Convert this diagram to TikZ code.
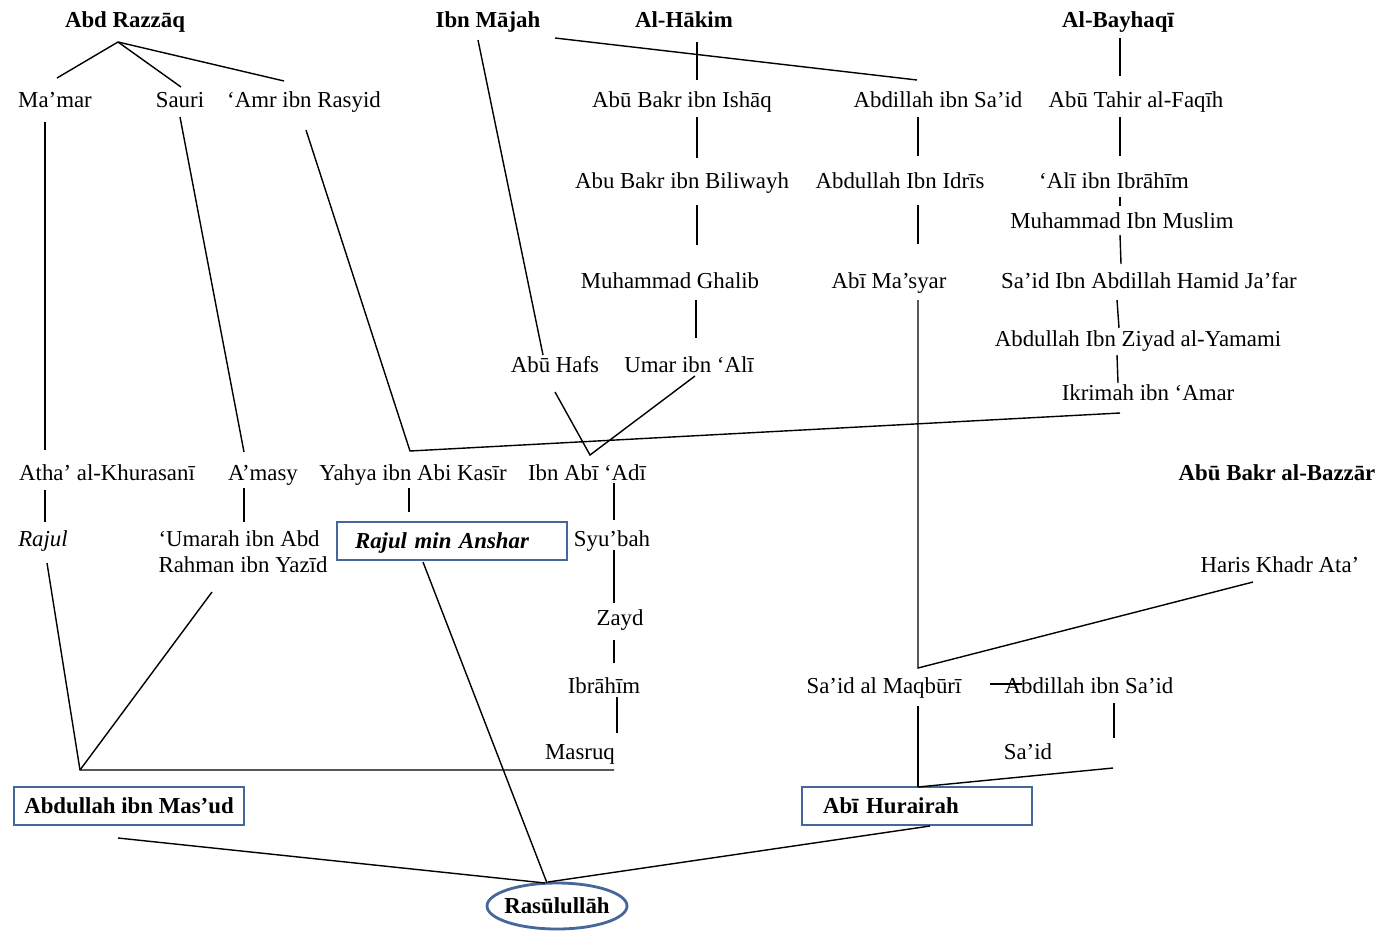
\documentclass[tikz,border=0pt]{standalone}
\usepackage{fontspec}
\setmainfont{Liberation Serif}
\usepackage{xcolor}
\usetikzlibrary{calc}
\definecolor{boxblue}{HTML}{45679A}

\begin{document}
\begin{tikzpicture}[x=0.02cm,y=-0.02cm,
  every node/.style={font=\fontsize{13}{15}\selectfont,inner sep=1pt,text height=10.5pt,text depth=1.5pt},
  imam/.style={font=\fontsize{13}{15}\selectfont\bfseries},
  hbox/.style={draw=boxblue,line width=1.6pt,minimum width=4.6cm,minimum height=0.76cm},
  link/.style={line width=0.8pt}
]
\useasboundingbox (0,0) rectangle (1382,930);

\node[imam] (razzaq) at (125,20) {Abd Razzāq};
\node[imam] (majah) at (488,20) {Ibn Mājah};
\node[imam] (hakim) at (684,20) {Al-Hākim};
\node[imam] (bayhaqi) at (1118,20) {Al-Bayhaqī};
\node (mamar) at (55,100) {Ma’mar};
\node (sauri) at (180,100) {Sauri};
\node (amr) at (304,100) {‘Amr ibn Rasyid};
\node (ishaq) at (682,100) {Abū Bakr ibn Ishāq};
\node (abdsaid) at (938,100) {Abdillah ibn Sa’id};
\node (tahir) at (1136,100) {Abū Tahir al-Faqīh};
\node (biliwayh) at (682,181) {Abu Bakr ibn Biliwayh};
\node (idris) at (900,181) {Abdullah Ibn Idrīs};
\node (alii) at (1114,181) {‘Alī ibn Ibrāhīm};
\node (muslim) at (1122,221) {Muhammad Ibn Muslim};
\node (ghalib) at (670,281) {Muhammad Ghalib};
\node (masyar) at (889,281) {Abī Ma’syar};
\node (jafar) at (1149,281) {Sa’id Ibn Abdillah Hamid Ja’far};
\node (yamami) at (1138,339) {Abdullah Ibn Ziyad al-Yamami};
\node (hafs) at (555,365) {Abū Hafs};
\node (umar) at (689,365) {Umar ibn ‘Alī};
\node (ikrimah) at (1148,393) {Ikrimah ibn ‘Amar};
\node (atha) at (107,473) {Atha’ al-Khurasanī};
\node (amasy) at (263,473) {A’masy};
\node (yahya) at (413,473) {Yahya ibn Abi Kasīr};
\node (adi) at (587,473) {Ibn Abī ‘Adī};
\node[imam] (bazzar) at (1277,473) {Abū Bakr al-Bazzār};
\node[font=\fontsize{13}{15}\selectfont\itshape] (rajul) at (43,539) {Rajul};
\node[align=left,text height=,text depth=] (umarah) at (243,552) {‘Umarah ibn Abd\\Rahman ibn Yazīd};
\node[hbox,font=\fontsize{13}{15}\selectfont\bfseries\itshape,align=left,text width=3.88cm,inner xsep=0.36cm] (anshar) at (452,541) {Rajul min Anshar};
\node (syubah) at (612,539) {Syu’bah};
\node (haris) at (1280,565) {Haris Khadr Ata’};
\node (zayd) at (620,618) {Zayd};
\node (ibrahim) at (604,686) {Ibrāhīm};
\node (maqburi) at (884,686) {Sa’id al Maqbūrī};
\node (abdsaid2) at (1089,686) {Abdillah ibn Sa’id};
\node (masruq) at (580,752) {Masruq};
\node (said) at (1028,752) {Sa’id};
\node[hbox,imam] (masud) at (129,806) {Abdullah ibn Mas’ud};
\node[hbox,imam,align=left,text width=3.76cm,inner xsep=0.42cm] (hurairah) at (917,806) {Abī Hurairah};
\node[imam] (rasul) at (557,906) {Rasūlullāh};
\draw[boxblue,line width=1.6pt] (rasul) ellipse [x radius=1.4cm,y radius=0.46cm];

\draw[link] ($(razzaq)+(-7,22)$) coordinate (jr) -- ($(mamar)+(2,-22)$);
\draw[link] (jr) -- ($(sauri)+(1,-13)$);
\draw[link] (jr) -- ($(amr)+(-20,-19)$);
\draw[link] ($(majah)+(67,18)$) -- ($(abdsaid)+(-21,-20)$);
\draw[link] ($(majah)+(-10,20)$) -- ($(hafs)+(-12,-10)$);
\draw[link] ($(hakim)+(13,22)$) -- ($(ishaq)+(15,-20)$);
\draw[link] ($(bayhaqi)+(2,18)$) -- ($(tahir)+(-16,-24)$);
\draw[link] ($(ishaq)+(15,17)$) -- ($(biliwayh)+(15,-23)$);
\draw[link] ($(abdsaid)+(-20,17)$) -- ($(idris)+(18,-25)$);
\draw[link] ($(tahir)+(-16,17)$) -- ($(alii)+(6,-25)$);
\draw[link] ($(biliwayh)+(15,24)$) -- ($(ghalib)+(27,-36)$);
\draw[link] ($(idris)+(18,24)$) -- ($(masyar)+(29,-37)$);
\draw[link] ($(alii)+(6,16)$) -- ($(muslim)+(-2,-15)$);
\draw[link] ($(muslim)+(-2,14)$) -- ($(jafar)+(-28,-17)$);
\draw[link] ($(jafar)+(-32,19)$) -- ($(yamami)+(-19,-11)$);
\draw[link] ($(yamami)+(-21,16)$) -- ($(ikrimah)+(-30,-10)$);
\draw[link] ($(ghalib)+(26,19)$) -- ($(umar)+(7,-27)$);
\draw[link] ($(masyar)+(29,19)$) -- ($(maqburi)+(34,-18)$) coordinate (jm) -- ($(haris)+(-27,17)$);
\draw[link] ($(amr)+(2,30)$) -- ($(yahya)+(-3,-22)$) -- ($(ikrimah)+(-28,20)$);
\draw[link] ($(hafs)+(0,27)$) -- ($(adi)+(3,-18)$) -- ($(umar)+(6,11)$);
\draw[link] ($(mamar)+(-10,22)$) -- ($(atha)+(-62,-23)$);
\draw[link] ($(sauri)+(0,17)$) -- ($(amasy)+(-19,-21)$);
\draw[link] ($(atha)+(-62,17)$) -- ($(rajul)+(2,-17)$);
\draw[link] ($(amasy)+(-19,15)$) -- ($(umarah)+(1,-30)$);
\draw[link] ($(yahya)+(-4,15)$) -- ($(anshar)+(-43,-29)$);
\draw[link] ($(adi)+(27,10)$) -- ($(syubah)+(2,-19)$);
\draw[link] ($(syubah)+(2,11)$) -- ($(zayd)+(-6,-15)$);
\draw[link] ($(zayd)+(-6,22)$) -- ($(ibrahim)+(10,-23)$);
\draw[link] ($(ibrahim)+(13,11)$) -- ($(masruq)+(37,-19)$);
\draw[link] ($(rajul)+(4,24)$) -- ($(masud)+(-49,-36)$) coordinate (jd) -- ($(masruq)+(34,18)$);
\draw[link] ($(umarah)+(-31,40)$) -- (jd);
\draw[link] ($(anshar)+(-29,21)$) -- ($(rasul)+(-10,-23)$);
\draw[link] ($(masud)+(-11,32)$) -- ($(rasul)+(-12,-23)$);
\draw[link] ($(hurairah)+(13,20)$) -- ($(rasul)+(-9,-24)$);
\draw[link] ($(maqburi)+(34,20)$) -- ($(hurairah)+(1,-19)$);
\draw[link] ($(abdsaid2)+(25,17)$) -- ($(said)+(86,-14)$);
\draw[link] ($(said)+(85,16)$) -- ($(hurairah)+(1,-19)$);
\draw[link] ($(abdsaid2)+(-99,-2)$) -- ($(abdsaid2)+(-67,-2)$);
\end{tikzpicture}
\end{document}
